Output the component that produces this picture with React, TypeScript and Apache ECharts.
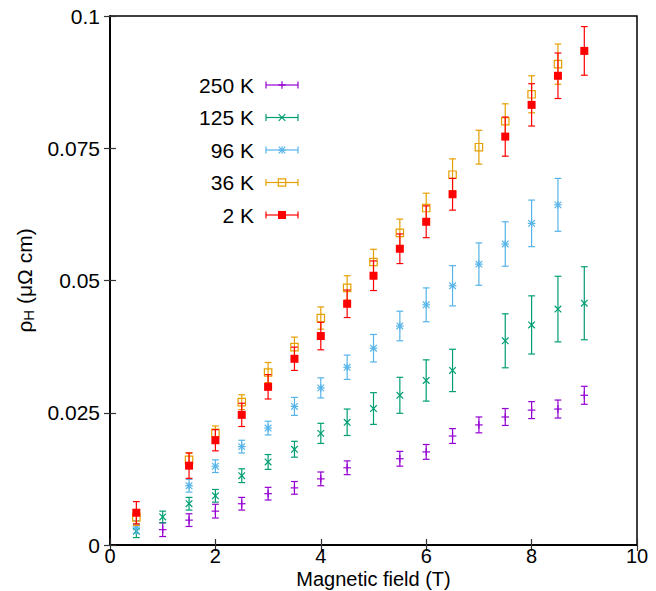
import React, { useEffect, useRef } from "react";
import * as echarts from "echarts";

// ---- data ----
const X250 = [1, 1.5, 2, 2.5, 3, 3.5, 4, 4.5, 5.5, 6, 6.5, 7, 7.5, 8, 8.5, 9];
const Y250 = [0.0029, 0.0047, 0.0064, 0.0078, 0.0097, 0.0108, 0.0125, 0.0146, 0.0163, 0.0176, 0.0206, 0.0227, 0.0242, 0.0255, 0.0257, 0.0283];
const E250 = [0.0013, 0.0012, 0.0013, 0.0012, 0.0012, 0.0012, 0.0013, 0.0013, 0.0014, 0.0014, 0.0014, 0.0015, 0.0016, 0.0016, 0.0017, 0.0017];

const X125 = [0.5, 1, 1.5, 2, 2.5, 3, 3.5, 4, 4.5, 5, 5.5, 6, 6.5, 7.5, 8, 8.5, 9];
const Y125 = [0.0026, 0.0053, 0.0078, 0.0093, 0.0131, 0.0157, 0.0181, 0.0211, 0.0232, 0.0258, 0.0283, 0.0311, 0.033, 0.0386, 0.0416, 0.0446, 0.0457];
const E125 = [0.0012, 0.0011, 0.0012, 0.0012, 0.0013, 0.0014, 0.0015, 0.0019, 0.0025, 0.003, 0.0034, 0.0039, 0.004, 0.0051, 0.0055, 0.0062, 0.0069];

const X96 = [0.5, 1.5, 2, 2.5, 3, 3.5, 4, 4.5, 5, 5.5, 6, 6.5, 7, 7.5, 8, 8.5];
const Y96 = [0.0034, 0.0112, 0.0149, 0.0186, 0.0221, 0.0262, 0.0297, 0.0336, 0.0372, 0.0414, 0.0454, 0.049, 0.0531, 0.0569, 0.0608, 0.0643];
const E96 = [0.0012, 0.0012, 0.0012, 0.0012, 0.0013, 0.0017, 0.0019, 0.0023, 0.0026, 0.0028, 0.0032, 0.0038, 0.004, 0.0042, 0.0044, 0.005];

const X36 = [0.5, 1.5, 2, 2.5, 3, 3.5, 4, 4.5, 5, 5.5, 6, 6.5, 7, 7.5, 8, 8.5];
const Y36 = [0.0052, 0.0161, 0.0212, 0.027, 0.0326, 0.0374, 0.0429, 0.0486, 0.0535, 0.059, 0.0637, 0.07, 0.0752, 0.0801, 0.0852, 0.0909];
const E36 = [0.0015, 0.0013, 0.0013, 0.0014, 0.0019, 0.0019, 0.0021, 0.0023, 0.0024, 0.0026, 0.0028, 0.003, 0.0032, 0.0033, 0.0035, 0.0038];

const X2 = [0.5, 1.5, 2, 2.5, 3, 3.5, 4, 4.5, 5, 5.5, 6, 6.5, 7.5, 8, 8.5, 9];
const Y2 = [0.0061, 0.015, 0.0198, 0.0246, 0.0299, 0.0352, 0.0395, 0.0456, 0.0509, 0.056, 0.0611, 0.0663, 0.0772, 0.0832, 0.0887, 0.0934];
const E2 = [0.0021, 0.0024, 0.002, 0.0022, 0.0023, 0.0022, 0.0026, 0.0026, 0.0028, 0.0028, 0.003, 0.003, 0.0037, 0.004, 0.0043, 0.0046];

const SERIES_NAMES = ["250 K", "125 K", "96 K", "36 K", "2 K"];
const SERIES_COLORS = ["#9400D3", "#009E73", "#56B4E9", "#E69F00", "#FF0000"];
const SERIES_MARKERS = ["plus", "cross", "star", "osquare", "fsquare"];
const SERIES_X = [X250, X125, X96, X36, X2];
const SERIES_Y = [Y250, Y125, Y96, Y36, Y2];
const SERIES_E = [E250, E125, E96, E36, E2];

const X_TICKS = [0, 2, 4, 6, 8, 10];
const Y_TICKS = [0, 0.025, 0.05, 0.075, 0.1];

const FONT = "Liberation Sans, Arial, Helvetica, sans-serif";
const FS = 21;
const LW = 1.2;

function marker(cx: number, cy: number, kind: string, color: string): any[] {
  const s = { stroke: color, lineWidth: LW };
  const h = 3.8;
  const d = 3.3;
  const L = (x1: number, y1: number, x2: number, y2: number) => ({
    type: "line",
    shape: { x1, y1, x2, y2 },
    style: s,
  });
  if (kind === "plus") return [L(cx - h, cy, cx + h, cy), L(cx, cy - h, cx, cy + h)];
  if (kind === "cross") return [L(cx - d, cy - d, cx + d, cy + d), L(cx - d, cy + d, cx + d, cy - d)];
  if (kind === "star")
    return [
      L(cx - h, cy, cx + h, cy),
      L(cx, cy - h, cx, cy + h),
      L(cx - d, cy - d, cx + d, cy + d),
      L(cx - d, cy + d, cx + d, cy - d),
    ];
  if (kind === "osquare")
    return [
      {
        type: "rect",
        shape: { x: cx - 3.7, y: cy - 3.7, width: 7.4, height: 7.4 },
        style: { fill: "none", stroke: color, lineWidth: LW },
      },
    ];
  return [
    {
      type: "rect",
      shape: { x: cx - 4, y: cy - 4, width: 8, height: 8 },
      style: { fill: color, stroke: "none" },
    },
  ];
}

export default function App() {
  const ref = useRef<HTMLDivElement>(null);

  useEffect(() => {
    document.body.style.margin = "0";
    if (!ref.current) return;
    const chart = echarts.init(ref.current, undefined, { renderer: "svg" });

    const series: any[] = SERIES_NAMES.map((name, k) => {
      const color = SERIES_COLORS[k];
      const kind = SERIES_MARKERS[k];
      return {
        type: "custom",
        name,
        xAxisIndex: 0,
        yAxisIndex: 0,
        clip: false,
        z: 10 + k,
        encode: { x: 0, y: 1 },
        data: SERIES_X[k].map((x, i) => [x, SERIES_Y[k][i], SERIES_E[k][i]]),
        renderItem: (params: any, api: any) => {
          const x = api.value(0);
          const y = api.value(1);
          const e = api.value(2);
          const c = api.coord([x, y]);
          const t = api.coord([x, y + e]);
          const b = api.coord([x, y - e]);
          const s = { stroke: color, lineWidth: LW };
          const cw = 3.4;
          return {
            type: "group",
            children: [
              { type: "line", shape: { x1: c[0], y1: t[1], x2: c[0], y2: b[1] }, style: s },
              { type: "line", shape: { x1: c[0] - cw, y1: t[1], x2: c[0] + cw, y2: t[1] }, style: s },
              { type: "line", shape: { x1: c[0] - cw, y1: b[1], x2: c[0] + cw, y2: b[1] }, style: s },
              ...marker(c[0], c[1], kind, color),
            ],
          };
        },
      };
    });

    // legend drawn as graphics (gnuplot-style key)
    const legendRows = [85, 117.5, 150, 182.5, 215];
    const graphics: any[] = [];
    SERIES_NAMES.forEach((name, k) => {
      const yy = legendRows[k];
      const color = SERIES_COLORS[k];
      const s = { stroke: color, lineWidth: LW };
      graphics.push({
        type: "text",
        x: 254,
        y: yy,
        style: {
          text: name,
          font: `${FS}px ${FONT}`,
          fill: "#000",
          textAlign: "right",
          textVerticalAlign: "middle",
        },
      });
      const x1 = 266,
        x2 = 298,
        xm = 282;
      graphics.push({ type: "line", shape: { x1, y1: yy, x2, y2: yy }, style: s });
      graphics.push({ type: "line", shape: { x1, y1: yy - 3.4, x2: x1, y2: yy + 3.4 }, style: s });
      graphics.push({ type: "line", shape: { x1: x2, y1: yy - 3.4, x2, y2: yy + 3.4 }, style: s });
      marker(xm, yy, SERIES_MARKERS[k], color).forEach((m) => graphics.push(m));
    });

    const axisLabelStyle = { fontSize: FS, color: "#000", fontFamily: FONT };
    const tickStyle = { show: true, inside: true, length: 6, lineStyle: { color: "#333", width: 1.2 } };

    chart.setOption({
      animation: false,
      backgroundColor: "#fff",
      grid: {
        left: 110,
        right: 19,
        top: 16,
        bottom: 46,
        outerBoundsMode: "none",
        containLabel: false,
        show: true,
        borderColor: "#000",
        borderWidth: 1.5,
        backgroundColor: "transparent",
      },
      xAxis: [
        {
          type: "value",
          min: X_TICKS[0],
          max: X_TICKS[X_TICKS.length - 1],
          interval: X_TICKS[1] - X_TICKS[0],
          position: "bottom",
          name: "Magnetic field (T)",
          nameLocation: "middle",
          nameGap: 24,
          nameMoveOverlap: false,
          nameTextStyle: { fontSize: 20, color: "#000", fontFamily: FONT },
          axisLine: { show: true, lineStyle: { color: "#000", width: 1.5 } },
          axisTick: tickStyle,
          axisLabel: { ...axisLabelStyle, fontSize: 20, margin: 1 },
          splitLine: { show: false },
        },
        {
          type: "value",
          min: X_TICKS[0],
          max: X_TICKS[X_TICKS.length - 1],
          interval: X_TICKS[1] - X_TICKS[0],
          position: "top",
          axisLine: { show: true, lineStyle: { color: "#000", width: 1.5 } },
          axisTick: tickStyle,
          axisLabel: { show: false },
          splitLine: { show: false },
        },
      ],
      yAxis: [
        {
          type: "value",
          min: Y_TICKS[0],
          max: Y_TICKS[Y_TICKS.length - 1],
          interval: Y_TICKS[1] - Y_TICKS[0],
          position: "left",
          name: "{a|ρ}{s|H}{a| (μΩ cm)}",
          nameLocation: "middle",
          nameGap: 74,
          nameMoveOverlap: false,
          nameRotate: 90,
          nameTextStyle: {
            color: "#000",
            fontFamily: FONT,
            rich: {
              a: { fontSize: FS, fontFamily: FONT, color: "#000" },
              s: { fontSize: 15, fontFamily: FONT, color: "#000", padding: [9, 0, 0, 0] },
            },
          },
          axisLine: { show: true, lineStyle: { color: "#000", width: 1.5 } },
          axisTick: tickStyle,
          axisLabel: {
            ...axisLabelStyle,
            margin: 10,
            formatter: (v: number) => (v === 0 ? "0" : String(+v.toFixed(3))),
          },
          splitLine: { show: false },
        },
        {
          type: "value",
          min: Y_TICKS[0],
          max: Y_TICKS[Y_TICKS.length - 1],
          interval: Y_TICKS[1] - Y_TICKS[0],
          position: "right",
          axisLine: { show: true, lineStyle: { color: "#000", width: 1.5 } },
          axisTick: tickStyle,
          axisLabel: { show: false },
          splitLine: { show: false },
        },
      ],
      graphic: graphics,
      series,
    });

    return () => chart.dispose();
  }, []);

  return (
    <div
      ref={ref}
      style={{ position: "absolute", left: 0, top: 0, width: 656, height: 591 }}
    />
  );
}
